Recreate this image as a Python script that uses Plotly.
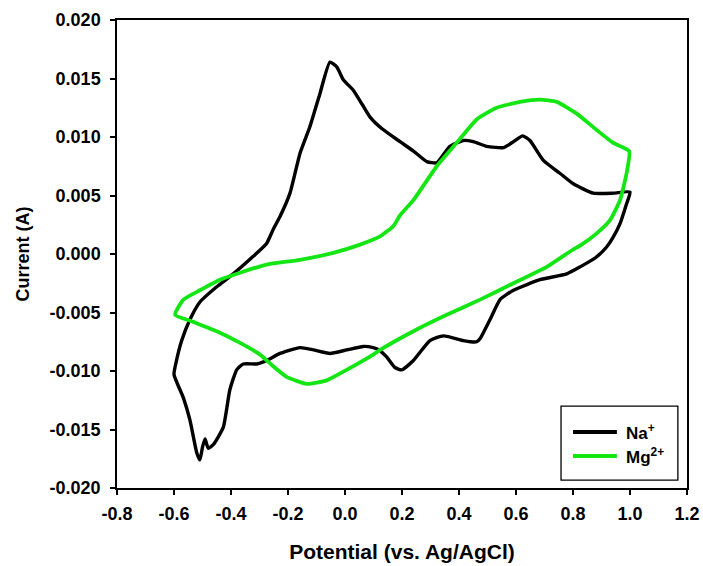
import plotly.graph_objects as go

# Na+ cyclic voltammogram (potential V, current A)
na_potential = [1.000, 0.988, 0.965, 0.940, 0.918, 0.880, 0.825, 0.778, 0.684, 0.591, 0.544, 0.509,
                0.475, 0.462, 0.440, 0.415, 0.345, 0.298, 0.240, 0.199, 0.175, 0.146, 0.120, 0.099,
                0.064, 0.006, -0.053, -0.111, -0.158, -0.228, -0.275, -0.310, -0.357, -0.380, -0.404,
                -0.427, -0.462, -0.480, -0.491, -0.500, -0.509, -0.520, -0.544, -0.567, -0.600,
                -0.593, -0.573, -0.544, -0.509, -0.450, -0.392, -0.322, -0.275, -0.252, -0.228, -0.193,
                -0.158, -0.123, -0.088, -0.053, -0.029, -0.006, 0.029, 0.060, 0.088, 0.130, 0.193,
                0.240, 0.287, 0.322, 0.368, 0.415, 0.450, 0.497, 0.556, 0.591, 0.623, 0.649, 0.696,
                0.754, 0.801, 0.871, 0.941, 1.000]
na_current = [0.0053, 0.0043, 0.0026, 0.0014, 0.0006, -0.0003, -0.0011, -0.0017, -0.0022, -0.0031, -0.0039, -0.0056,
              -0.0072, -0.0075, -0.0075, -0.0074, -0.0070, -0.0074, -0.0091, -0.0099, -0.0097, -0.0088, -0.0082, -0.0080,
              -0.0079, -0.0082, -0.0085, -0.0082, -0.0080, -0.0085, -0.0091, -0.0094, -0.0094, -0.0099, -0.0116,
              -0.0148, -0.0163, -0.0166, -0.0158, -0.0165, -0.0176, -0.0170, -0.0142, -0.0123, -0.0103,
              -0.0093, -0.0074, -0.0056, -0.0041, -0.0028, -0.0017, -0.0002, 0.0009, 0.0021, 0.0032, 0.0052,
              0.0086, 0.0109, 0.0137, 0.0164, 0.0160, 0.0149, 0.0140, 0.0128, 0.0117, 0.0107, 0.0096,
              0.0088, 0.0079, 0.0078, 0.0092, 0.0097, 0.0096, 0.0092, 0.0091, 0.0096, 0.0101, 0.0097, 0.0080,
              0.0069, 0.0060, 0.0052, 0.0052, 0.0053]

# Mg2+ cyclic voltammogram
mg_potential = [-0.596, -0.567, -0.509, -0.439, -0.368, -0.275, -0.158, -0.041, 0.053, 0.123, 0.170, 0.193,
                0.240, 0.322, 0.392, 0.462, 0.532, 0.614, 0.684, 0.743, 0.813, 0.883, 0.941, 0.997,
                0.988, 0.965, 0.930, 0.880, 0.830, 0.795, 0.708, 0.591, 0.474, 0.357, 0.240, 0.123,
                0.099, 0.006, -0.064, -0.134, -0.205, -0.252, -0.298, -0.368, -0.450, -0.532, -0.596]
mg_current = [-0.0052, -0.0039, -0.0031, -0.0022, -0.0016, -0.0009, -0.0005, 0.0001, 0.0008, 0.0015, 0.0024, 0.0033,
              0.0046, 0.0075, 0.0095, 0.0115, 0.0125, 0.0130, 0.0132, 0.0130, 0.0120, 0.0106, 0.0095, 0.0088,
              0.0069, 0.0046, 0.0029, 0.0017, 0.0008, 0.0003, -0.0011, -0.0025, -0.0039, -0.0052, -0.0066, -0.0082,
              -0.0086, -0.0099, -0.0108, -0.0111, -0.0105, -0.0096, -0.0086, -0.0076, -0.0066, -0.0058, -0.0052]

x_tickvals = [-0.8, -0.6, -0.4, -0.2, 0.0, 0.2, 0.4, 0.6, 0.8, 1.0, 1.2]
x_ticktext = ["-0.8", "-0.6", "-0.4", "-0.2", "0.0", "0.2", "0.4", "0.6", "0.8", "1.0", "1.2"]
y_tickvals = [-0.020, -0.015, -0.010, -0.005, 0.000, 0.005, 0.010, 0.015, 0.020]
y_ticktext = ["-0.020", "-0.015", "-0.010", "-0.005", "0.000", "0.005", "0.010", "0.015", "0.020"]

series_names = ["<b>Na<sup>+</sup></b>", "<b>Mg<sup>2+</sup></b>"]
series_colors = ["black", "#14e614"]

font_family = "Liberation Sans, Arial, sans-serif"

fig = go.Figure()
fig.add_trace(go.Scatter(x=na_potential, y=na_current, mode="lines", name=series_names[0], showlegend=False,
                         line=dict(color=series_colors[0], width=3.4, shape="spline", smoothing=0.5)))
fig.add_trace(go.Scatter(x=mg_potential, y=mg_current, mode="lines", name=series_names[1], showlegend=False,
                         line=dict(color=series_colors[1], width=3.8, shape="spline", smoothing=0.5)))

axis_common = dict(showgrid=False, zeroline=False, showline=True, linecolor="black", linewidth=1.5,
                   mirror=True, ticks="outside", ticklen=5, tickwidth=1.5, tickcolor="black",
                   automargin=False,
                   tickfont=dict(family=font_family, size=18, color="black", weight="bold"))

fig.update_xaxes(range=[-0.8, 1.2], tickvals=x_tickvals, ticktext=x_ticktext, ticklabelstandoff=4,
                 title=dict(text="<b>Potential (vs. Ag/AgCl)</b>", standoff=21,
                            font=dict(family=font_family, size=21, color="black")),
                 **axis_common)
fig.update_yaxes(range=[-0.020, 0.020], tickvals=y_tickvals, ticktext=y_ticktext, ticklabelstandoff=6,
                 title=dict(text="<b>Current (A)</b>", standoff=15,
                            font=dict(family=font_family, size=18, color="black")),
                 **axis_common)

# legend drawn as a framed box (paper coordinates)
shapes = [dict(type="rect", xref="paper", yref="paper", x0=0.779, x1=0.984, y0=0.017, y1=0.175,
               line=dict(color="black", width=1.3), fillcolor="white", layer="above")]
annotations = []
legend_rows_y = [0.1197, 0.0684]
for name, color, yy in zip(series_names, series_colors, legend_rows_y):
    shapes.append(dict(type="line", xref="paper", yref="paper", x0=0.800, x1=0.877, y0=yy, y1=yy,
                       line=dict(color=color, width=4), layer="above"))
    annotations.append(dict(xref="paper", yref="paper", x=0.889, y=yy, xanchor="left", yanchor="middle",
                            text=name, showarrow=False,
                            font=dict(family=font_family, size=17, color="black")))

fig.update_layout(
    width=703, height=566,
    margin=dict(l=117, r=16, t=20, b=78),
    plot_bgcolor="white", paper_bgcolor="white",
    shapes=shapes, annotations=annotations,
)

fig.write_html("out.html", config={"displayModeBar": False},
               post_script="document.body.style.margin='0';")
